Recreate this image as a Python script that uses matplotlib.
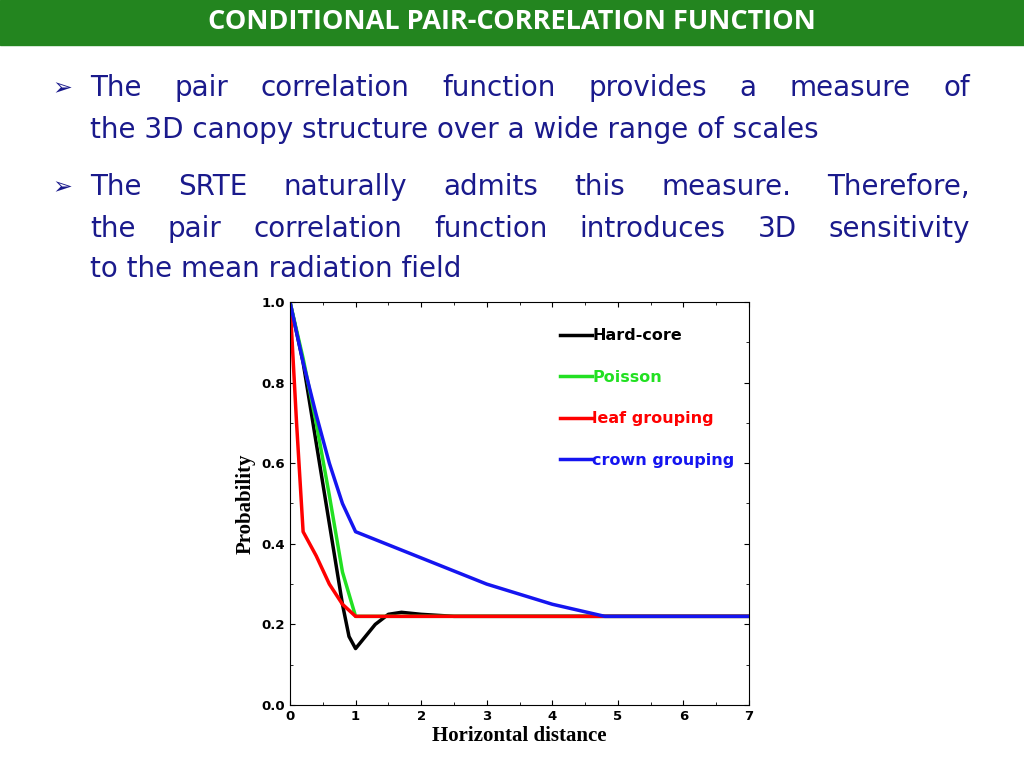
import matplotlib
matplotlib.use("Agg")
import matplotlib.pyplot as plt
from matplotlib.ticker import MultipleLocator

title = "CONDITIONAL PAIR-CORRELATION FUNCTION"
bullet1 = ["The pair correlation function provides a measure of",
           "the 3D canopy structure over a wide range of scales"]
bullet2 = ["The SRTE naturally admits this measure. Therefore,",
           "the pair correlation function introduces 3D sensitivity",
           "to the mean radiation field"]

hard_x = [0, 0.2, 0.4, 0.6, 0.8, 0.9, 1.0, 1.1, 1.3, 1.5, 1.7, 2.0, 2.5, 7]
hard_y = [1.0, 0.85, 0.65, 0.45, 0.25, 0.17, 0.14, 0.16, 0.20, 0.225, 0.23, 0.225, 0.22, 0.22]
pois_x = [0, 0.2, 0.4, 0.6, 0.8, 1.0, 7]
pois_y = [1.0, 0.86, 0.70, 0.52, 0.33, 0.22, 0.22]
leaf_x = [0, 0.1, 0.2, 0.4, 0.6, 0.8, 1.0, 7]
leaf_y = [1.0, 0.70, 0.43, 0.37, 0.30, 0.25, 0.22, 0.22]
crown_x = [0, 0.2, 0.4, 0.6, 0.8, 1.0, 2, 3, 4, 4.8, 7]
crown_y = [1.0, 0.85, 0.72, 0.60, 0.50, 0.43, 0.365, 0.30, 0.25, 0.22, 0.22]

fig = plt.figure(figsize=(10.24, 7.68), dpi=100)
fig.patches.append(plt.Rectangle((0, 1 - 45/768), 1, 45/768, transform=fig.transFigure,
                                 color="#23851f", zorder=0))
fig.text(0.5, 1 - 22/768, title, ha="center", va="center", color="white",
         fontsize=19.5, fontweight="bold", family="Open Sans")
tc = "#1a1a8c"
fs = 20
fig.canvas.draw()
r = fig.canvas.get_renderer()

def put_line(y, text, justify):
    x0, x1 = 90, 970
    if not justify:
        fig.text(x0/1024, 1 - y/768, text, color=tc, fontsize=fs, va="center", family="DejaVu Sans")
        return
    words = text.split()
    objs = [fig.text(0, 1 - y/768, w, color=tc, fontsize=fs, va="center", family="DejaVu Sans") for w in words]
    widths = [o.get_window_extent(r).width for o in objs]
    gap = (x1 - x0 - sum(widths)) / (len(words) - 1)
    x = x0
    for o, w in zip(objs, widths):
        o.set_x(x/1024)
        x += w + gap

fig.text(52/1024, 1 - 88/768, "➢", color=tc, fontsize=17, va="center", family="DejaVu Sans")
put_line(88, bullet1[0], True)
put_line(130, bullet1[1], False)
fig.text(52/1024, 1 - 187/768, "➢", color=tc, fontsize=17, va="center", family="DejaVu Sans")
put_line(187, bullet2[0], True)
put_line(229, bullet2[1], True)
put_line(269, bullet2[2], False)

ax = fig.add_axes([290/1024, 1 - 705/768, 459/1024, 403/768])
ax.plot(hard_x, hard_y, color="black", lw=2.5, label="Hard-core")
ax.plot(pois_x, pois_y, color="#22e022", lw=2.5, label="Poisson")
ax.plot(leaf_x, leaf_y, color="red", lw=2.5, label="leaf grouping")
ax.plot(crown_x, crown_y, color="#1515f0", lw=2.5, label="crown grouping")
ax.set_xlim(0, 7)
ax.set_ylim(0, 1.0)
ax.xaxis.set_major_locator(MultipleLocator(1))
ax.xaxis.set_minor_locator(MultipleLocator(0.5))
ax.yaxis.set_major_locator(MultipleLocator(0.2))
ax.yaxis.set_minor_locator(MultipleLocator(0.1))
ax.tick_params(which="both", direction="in", top=True, right=True, labelsize=9.5)
for lab in ax.get_xticklabels() + ax.get_yticklabels():
    lab.set_fontweight("bold")
ax.set_xlabel("Horizontal distance", family="Liberation Serif", fontweight="bold", fontsize=15, labelpad=2)
ax.set_ylabel("Probability", family="Liberation Serif", fontweight="bold", fontsize=15, labelpad=4)
leg = ax.legend(loc="upper right", bbox_to_anchor=(1.0, 0.97), frameon=False,
                handlelength=2.0, handletextpad=0.0, labelspacing=1.65, fontsize=11.5)
for t, l in zip(leg.get_texts(), leg.get_lines()):
    t.set_color(l.get_color())
    t.set_fontweight("bold")
fig.savefig("out.png", dpi=100)
